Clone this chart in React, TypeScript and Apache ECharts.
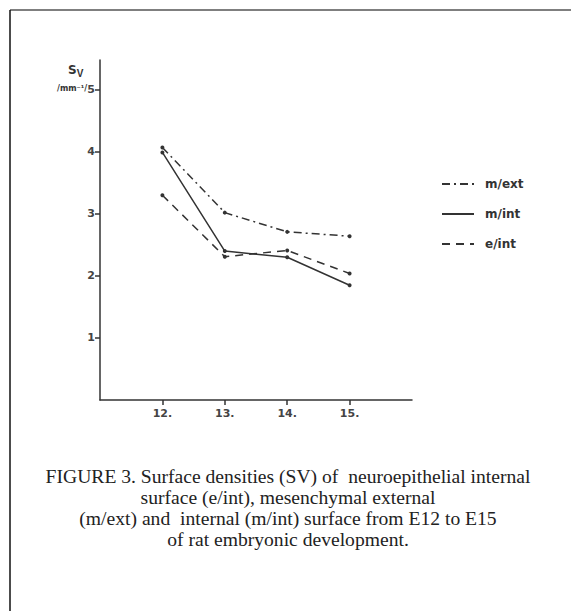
import React, { useEffect, useRef } from "react";
import * as echarts from "echarts";

const days = [12, 13, 14, 15];
const mExt = [4.07, 3.02, 2.71, 2.64];
const mInt = [3.99, 2.4, 2.3, 1.85];
const eInt = [3.3, 2.31, 2.41, 2.04];
const yTicks = [1, 2, 3, 4, 5];
const seriesNames = ["m/ext", "m/int", "e/int"];
const captionLines = [
  "FIGURE 3. Surface densities (SV) of  neuroepithelial internal",
  "surface (e/int), mesenchymal external",
  "(m/ext) and  internal (m/int) surface from E12 to E15",
  "of rat embryonic development.",
];

const INK = "#333";

export default function App() {
  const ref = useRef<HTMLDivElement>(null);
  useEffect(() => {
    if (!ref.current) return;
    const chart = echarts.init(ref.current, null, { renderer: "svg" });
    const mk = (name: string, vals: number[], type: any) => ({
      name,
      type: "line",
      data: days.map((d, i) => [d, vals[i]]),
      symbol: "circle",
      symbolSize: 4,
      itemStyle: { color: INK },
      lineStyle: { color: INK, width: 1.5, type },
    });
    chart.setOption({
      animation: false,
      backgroundColor: "#fff",
      grid: { left: 100, right: 159, top: 60, bottom: 211, containLabel: false },
      xAxis: {
        type: "value",
        min: 11,
        max: 16,
        splitLine: { show: false },
        axisLine: { onZero: false, lineStyle: { color: INK, width: 1.5 } },
        axisTick: { show: true, length: 5, customValues: days, lineStyle: { color: INK, width: 1.5 } },
        axisLabel: {
          customValues: days,
          formatter: (v: number) => v + ".",
          color: "#444",
          fontFamily: "DejaVu Sans",
          fontWeight: "bold",
          fontSize: 11,
          margin: 8,
        },
      },
      yAxis: {
        type: "value",
        min: 0,
        max: 5.48,
        splitLine: { show: false },
        axisLine: { show: true, lineStyle: { color: INK, width: 1.5 } },
        axisTick: { show: true, length: 5, customValues: yTicks, lineStyle: { color: INK, width: 1.5 } },
        axisLabel: {
          customValues: yTicks,
          color: "#444",
          fontFamily: "DejaVu Sans",
          fontWeight: "bold",
          fontSize: 11,
          margin: 5,
        },
      },
      legend: {
        orient: "vertical",
        left: 436,
        top: 173,
        itemWidth: 32,
        itemHeight: 14,
        itemGap: 18,
        data: seriesNames,
        itemStyle: { opacity: 0 },
        textStyle: { color: INK, fontFamily: "DejaVu Sans", fontWeight: "bold", fontSize: 12, padding: [0, 0, 0, 6] },
      },
      series: [
        mk(seriesNames[0], mExt, [8, 4, 2, 4]),
        mk(seriesNames[1], mInt, "solid"),
        mk(seriesNames[2], eInt, [8, 6]),
      ],
      graphic: [
        { type: "line", shape: { x1: 10, y1: 10, x2: 571, y2: 10 }, style: { stroke: "#555", lineWidth: 1.5 } },
        { type: "line", shape: { x1: 10, y1: 10, x2: 10, y2: 611 }, style: { stroke: "#111", lineWidth: 1.5 } },
        {
          type: "text",
          x: 68,
          y: 62,
          style: {
            text: "S{sub|V}",
            fill: INK,
            font: "bold 12px 'DejaVu Sans'",
            rich: { sub: { fontSize: 10, fontWeight: "bold", fill: INK, padding: [6, 0, 0, 0] } },
          },
        },
        {
          type: "text",
          x: 57,
          y: 84,
          style: { text: "/mm\u207B\u00B9/", fill: INK, font: "bold 8px 'DejaVu Sans'" },
        },
        {
          type: "text",
          x: 288,
          y: 466,
          style: {
            text: captionLines.join("\n"),
            fill: "#222",
            font: "19.6px 'Liberation Serif'",
            lineHeight: 21,
            align: "center",
          },
        },
      ],
    });
    return () => chart.dispose();
  }, []);
  return <div ref={ref} style={{ position: "fixed", left: 0, top: 0, width: 571, height: 611 }} />;
}
